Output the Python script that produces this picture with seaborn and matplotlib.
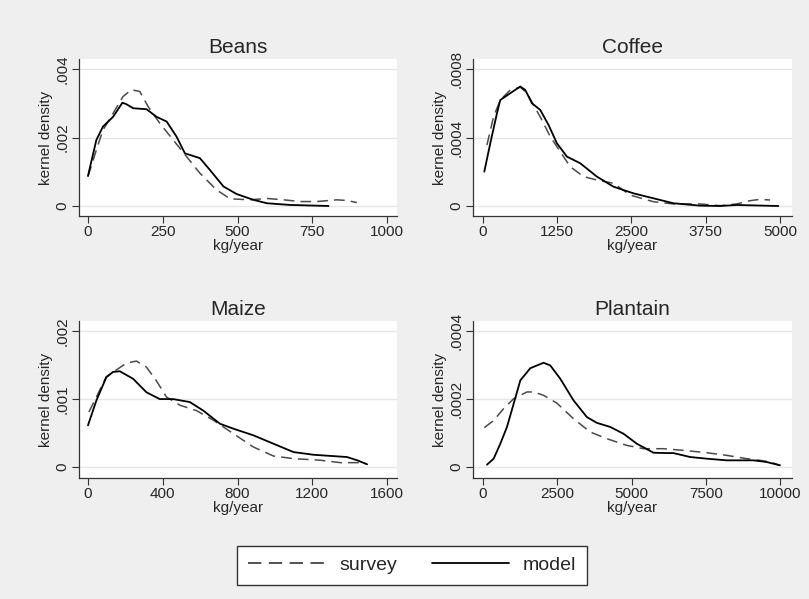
import matplotlib
matplotlib.use("Agg")
import matplotlib.pyplot as plt
import seaborn as sns
import pandas as pd
from matplotlib.lines import Line2D

# ---------------- data ----------------
beans_model_x = [0, 28, 50, 84, 115, 128, 151, 196, 229, 263, 296, 324, 374, 408, 453, 497, 553, 598, 676, 804]
beans_model_y = [0.00088, 0.00193, 0.00232, 0.00261, 0.00302, 0.00298, 0.00286, 0.00283, 0.00261, 0.00247,
                 0.00203, 0.00154, 0.0014, 0.00105, 0.00057, 0.00035, 0.00018, 0.00008, 0.00003, 0.0]
beans_survey_x = [0, 28, 50, 84, 117, 145, 173, 201, 240, 285, 330, 374, 430, 475, 542, 598, 654, 709, 765, 832, 866, 899]
beans_survey_y = [0.00086, 0.00164, 0.00222, 0.00271, 0.0032, 0.0034, 0.00335, 0.00291, 0.00242, 0.00193, 0.00144,
                  0.00096, 0.00047, 0.00021, 0.00018, 0.00022, 0.00018, 0.00013, 0.00013, 0.00018, 0.00016, 0.0001]

coffee_model_x = [22, 123, 235, 291, 460, 628, 712, 824, 964, 1104, 1244, 1413, 1637, 1917, 2197, 2534, 2870,
                  3206, 3655, 3991, 4271, 4972]
coffee_model_y = [0.000201, 0.000367, 0.000542, 0.00062, 0.00066, 0.000699, 0.000679, 0.000601, 0.000562, 0.000474,
                  0.000367, 0.000289, 0.00025, 0.000172, 0.000113, 0.000074, 0.000045, 0.000016, 0.000002, 0.0,
                  0.000006, 0.0]
coffee_survey_x = [67, 179, 291, 460, 628, 740, 852, 992, 1132, 1300, 1469, 1693, 1917, 2197, 2477, 2870, 3206,
                   3655, 3991, 4271, 4496, 4664, 4832]
coffee_survey_y = [0.000357, 0.000523, 0.00062, 0.000679, 0.000695, 0.00066, 0.000591, 0.000503, 0.000406,
                   0.000318, 0.00023, 0.000172, 0.000152, 0.000133, 0.000064, 0.000025, 0.000012, 0.000012,
                   0.000002, 0.000012, 0.000031, 0.000039, 0.000035]

maize_model_x = [0, 45, 98, 134, 170, 241, 313, 384, 456, 545, 617, 706, 778, 885, 992, 1099, 1207, 1385, 1439, 1493]
maize_model_y = [0.000613, 0.00098, 0.00132, 0.0014, 0.00141, 0.0013, 0.0011, 0.001, 0.001, 0.000956, 0.00083,
                 0.000637, 0.000564, 0.000466, 0.000343, 0.00022, 0.00018, 0.000147, 0.0001, 0.00004]
maize_survey_x = [5, 45, 98, 152, 206, 259, 313, 366, 420, 492, 581, 670, 778, 885, 992, 1099, 1242, 1350, 1457, 1484]
maize_survey_y = [0.00081, 0.00103, 0.00133, 0.00143, 0.00153, 0.00156, 0.00147, 0.00127, 0.00103, 0.00091,
                  0.00083, 0.00069, 0.00049, 0.000294, 0.000162, 0.000123, 0.0001, 0.000064, 0.000064, 0.00005]

plantain_model_x = [135, 359, 583, 807, 1031, 1256, 1592, 2040, 2265, 2601, 3049, 3498, 3834, 4283, 4731, 5179,
                    5740, 6188, 6412, 6973, 7534, 8206, 9103, 9552, 10000]
plantain_model_y = [0.0000069, 0.0000245, 0.0000686, 0.000118, 0.000186, 0.000255, 0.000291, 0.000307, 0.000299,
                    0.00026, 0.000196, 0.000147, 0.00013, 0.000118, 0.000098, 0.0000686, 0.000042, 0.000041,
                    0.000041, 0.0000294, 0.0000245, 0.0000196, 0.0000196, 0.0000147, 0.0000049]
plantain_survey_x = [45, 359, 695, 1031, 1480, 1704, 2040, 2489, 3049, 3610, 4170, 4843, 5404, 6076, 6749, 7534,
                     8206, 8879, 9327, 9664, 10000]
plantain_survey_y = [0.000116, 0.000137, 0.000172, 0.000201, 0.000221, 0.000221, 0.000211, 0.000188, 0.000142,
                     0.000103, 0.0000833, 0.0000637, 0.0000539, 0.0000539, 0.000049, 0.0000421, 0.0000343,
                     0.0000245, 0.0000196, 0.0000147, 0.0000049]

crops = ["Beans", "Coffee", "Maize", "Plantain"]
x_ticks = {"Beans": [0, 250, 500, 750, 1000], "Coffee": [0, 1250, 2500, 3750, 5000],
           "Maize": [0, 400, 800, 1200, 1600], "Plantain": [0, 2500, 5000, 7500, 10000]}
y_ticks = {"Beans": [0, 0.002, 0.004], "Coffee": [0, 0.0004, 0.0008],
           "Maize": [0, 0.001, 0.002], "Plantain": [0, 0.0002, 0.0004]}
y_ticklabels = {"Beans": ["0", ".002", ".004"], "Coffee": ["0", ".0004", ".0008"],
                "Maize": ["0", ".001", ".002"], "Plantain": ["0", ".0002", ".0004"]}
series = {
    "Beans": (beans_survey_x, beans_survey_y, beans_model_x, beans_model_y),
    "Coffee": (coffee_survey_x, coffee_survey_y, coffee_model_x, coffee_model_y),
    "Maize": (maize_survey_x, maize_survey_y, maize_model_x, maize_model_y),
    "Plantain": (plantain_survey_x, plantain_survey_y, plantain_model_x, plantain_model_y),
}

# ---------------- layout ----------------
sns.set_style("white")
plt.rcParams["font.family"] = ["Liberation Sans", "DejaVu Sans"]

W, H = 809, 599
fig = plt.figure(figsize=(W / 100, H / 100), dpi=100, facecolor="#efefef")


def px_axes(l, t, r, b):
    return [l / W, 1 - b / H, (r - l) / W, (b - t) / H]


boxes = {"Beans": px_axes(79, 59, 397, 216), "Coffee": px_axes(473, 59, 792, 216),
         "Maize": px_axes(79, 321, 397, 478), "Plantain": px_axes(473, 321, 792, 478)}
xlims = {"Beans": (-30, 1033), "Coffee": (-168, 5202), "Maize": (-48, 1653), "Plantain": (-337, 10404)}
ylims = {"Beans": (-0.000293, 0.0043), "Coffee": (-0.0000585, 0.00086),
         "Maize": (-0.000162, 0.00215), "Plantain": (-0.0000324, 0.00043)}

dash = (7, 4)
for crop in crops:
    ax = fig.add_axes(boxes[crop])
    ax.set_facecolor("white")
    sx, sy, mx, my = series[crop]
    df_s = pd.DataFrame({"x": sx, "y": sy})
    df_m = pd.DataFrame({"x": mx, "y": my})
    for yt in y_ticks[crop]:
        ax.axhline(yt, color="#e6e6e6", lw=1.0, zorder=0)
    sns.lineplot(data=df_s, x="x", y="y", ax=ax, color="#4a4a4a", lw=1.1, dashes=False,
                 linestyle=(0, dash), sort=False)
    sns.lineplot(data=df_m, x="x", y="y", ax=ax, color="black", lw=1.3, sort=False)
    ax.set_xlim(*xlims[crop])
    ax.set_ylim(*ylims[crop])
    ax.set_xticks(x_ticks[crop])
    ax.set_xticklabels([str(v) for v in x_ticks[crop]], fontsize=11)
    ax.set_yticks(y_ticks[crop])
    ax.set_yticklabels(y_ticklabels[crop], fontsize=11, rotation=90, va="center")
    ax.tick_params(axis="both", direction="out", length=4.8, width=0.8, color="#333333", pad=2,
                   bottom=True, left=True)
    for s in ["top", "right"]:
        ax.spines[s].set_visible(False)
    for s in ["left", "bottom"]:
        ax.spines[s].set_color("#333333")
        ax.spines[s].set_linewidth(0.9)
    ax.set_title(crop, fontsize=15, pad=4)
    ax.set_xlabel("kg/year", fontsize=11, labelpad=0)
    ax.set_ylabel("kernel density", fontsize=11, labelpad=2)

handles = [Line2D([], [], color="#333333", lw=1.2, linestyle=(0, (8, 4.5))),
           Line2D([], [], color="black", lw=1.3)]
leg = fig.legend(handles, ["survey", "model"], loc="center", ncol=2,
                 bbox_to_anchor=(412 / W, 1 - 565 / H), frameon=True, fancybox=False,
                 edgecolor="#333333", facecolor="white", framealpha=1, fontsize=14,
                 handlelength=4.0, columnspacing=1.8, handletextpad=0.7, borderpad=0.55)
leg.get_frame().set_linewidth(1.0)

fig.savefig("out.png", dpi=100, facecolor=fig.get_facecolor())
